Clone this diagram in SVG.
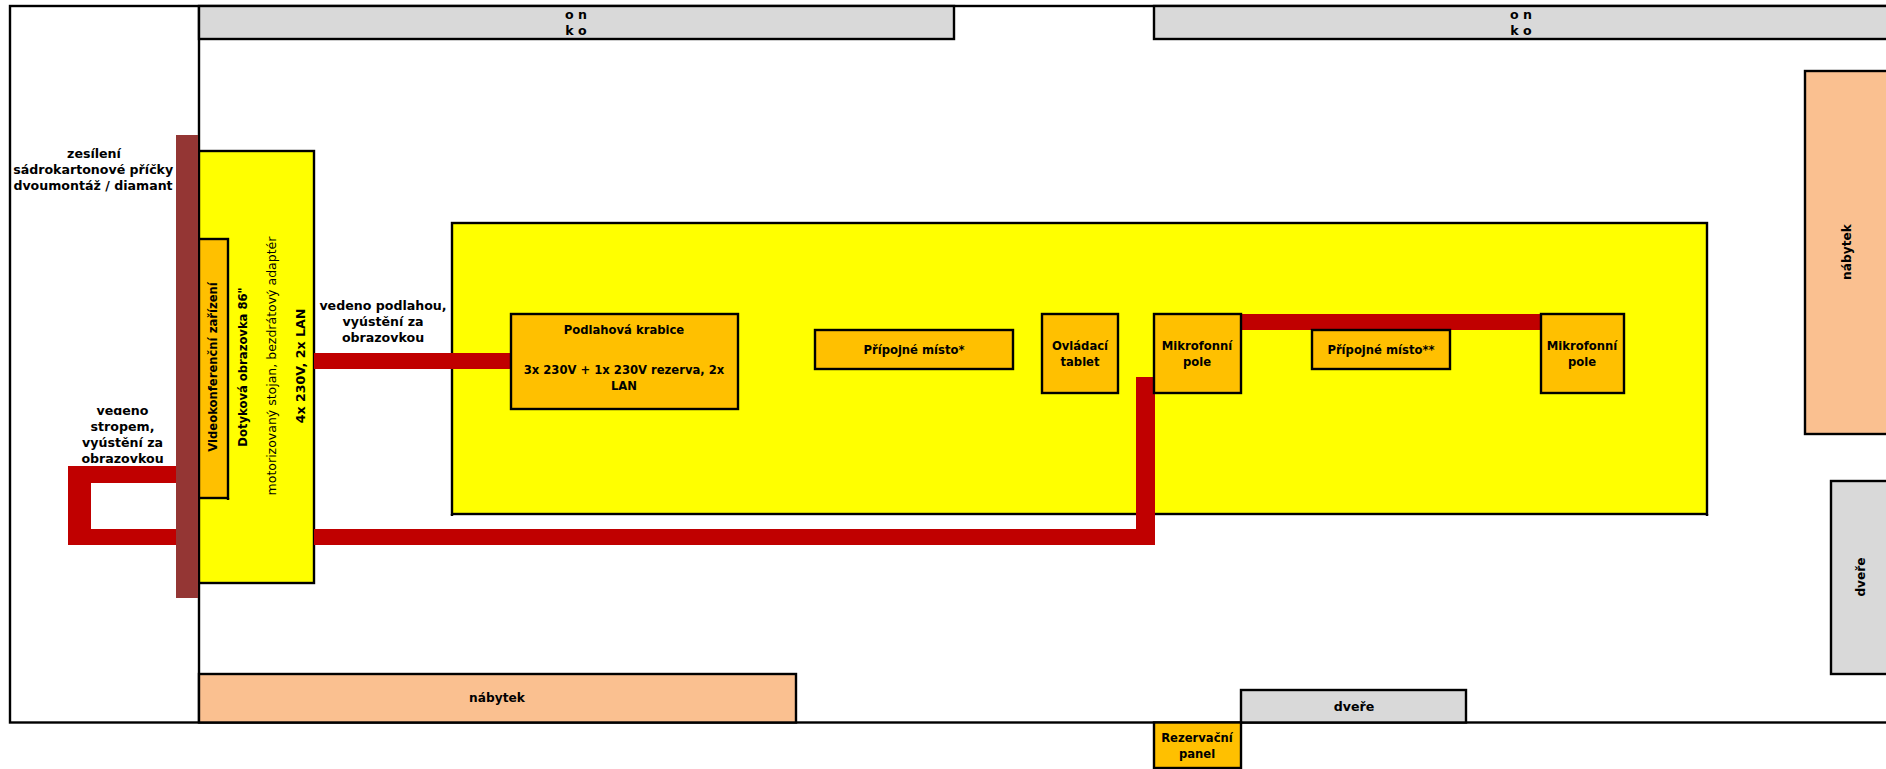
<svg xmlns="http://www.w3.org/2000/svg" width="1886" height="769" viewBox="0 0 1886 769">
<style>
rect.b{stroke:#000;stroke-width:2.4}
.y{fill:#ff0}.o{fill:#ffc000}.g{fill:#d9d9d9}.p{fill:#fac090}.w{fill:none}
.brown{fill:#943634}
text{font-family:"DejaVu Sans",Verdana,sans-serif;font-size:11.6px;font-weight:bold;fill:#000;text-anchor:middle}
text.r{font-weight:normal;font-size:12.5px}
text.l{font-size:12.6px}
text.m{font-size:12.2px}
.c{fill:#c00000}
</style>
<defs><clipPath id="cl"><rect x="20" y="408" width="200" height="60"/></clipPath></defs>
<rect width="1886" height="769" fill="#fff"/>
<g id="room"><rect class="b w" x="10" y="6" width="1890" height="716.500"/><path d="M199 6V722.500" stroke="#000" stroke-width="2.4"/></g>
<g id="okno1"><rect class="b g" x="199" y="6" width="755" height="33"/><text class="l" x="576" y="19">o n</text><text class="l" x="576" y="35">k o</text></g>
<g id="okno2"><rect class="b g" x="1154" y="6" width="750" height="33"/><text class="l" x="1521" y="19">o n</text><text class="l" x="1521" y="35">k o</text></g>
<g id="stul"><rect class="b y" x="452" y="223" width="1255" height="291"/><path d="M452 514v2M1707 514v2" stroke="#000" stroke-width="2.4"/></g>
<g id="obrazovka"><rect class="b y" x="199" y="151" width="115" height="432"/>
<text transform="translate(243,367) rotate(-90)" y="4">Dotyková obrazovka 86"</text>
<text class="r" transform="translate(272,366) rotate(-90)" y="4">motorizovaný stojan, bezdrátový adaptér</text>
<text class="l" transform="translate(301,366) rotate(-90)" y="4">4x 230V, 2x LAN</text></g>
<g id="connectors">
<rect class="c" x="314" y="353" width="197" height="16"/>
<rect class="c" x="1240" y="314" width="302" height="16"/>
<rect class="c" x="314" y="529" width="841" height="16"/>
<rect class="c" x="1136" y="377" width="19" height="168"/>
<rect class="c" x="68" y="466" width="108" height="17"/>
<rect class="c" x="68" y="529" width="108" height="16"/>
<rect class="c" x="68" y="466" width="23" height="79"/>
</g>
<g id="video"><rect class="b o" x="199" y="239" width="29" height="259"/><path d="M228 498v2" stroke="#000" stroke-width="2.4"/><text transform="translate(213,367) rotate(-90)" y="4">Videokonferenční zařízení</text></g>
<g id="zesileni-text"><text class="l" x="94" y="158">zesílení</text><text class="l" x="98" y="174">sádrokartonové příčky -</text><text class="l" x="93" y="190">dvoumontáž / diamant</text></g>
<g id="zesileni"><rect class="brown" x="176" y="135" width="22" height="463"/></g>
<g id="vedeno-strop" clip-path="url(#cl)"><text class="l" x="122.500" y="415">vedeno</text><text class="l" x="122.500" y="431">stropem,</text><text class="l" x="122.500" y="447">vyústění za</text><text class="l" x="122.500" y="463">obrazovkou</text></g>
<g id="vedeno-podlaha"><text class="l" x="383" y="310">vedeno podlahou,</text><text class="l" x="383" y="326">vyústění za</text><text class="l" x="383" y="342">obrazovkou</text></g>
<g id="krabice"><rect class="b o" x="511" y="314" width="227" height="95"/><text x="624" y="334">Podlahová krabice</text><text x="624" y="374">3x 230V + 1x 230V rezerva, 2x</text><text x="624" y="390">LAN</text></g>
<g id="pripojne1"><rect class="b o" x="815" y="330" width="198" height="39"/><text x="914" y="354">Přípojné místo*</text></g>
<g id="tablet"><rect class="b o" x="1042" y="314" width="76" height="79"/><text x="1080" y="350">Ovládací</text><text x="1080" y="366">tablet</text></g>
<g id="mikrofon1"><rect class="b o" x="1154" y="314" width="87" height="79"/><text x="1197" y="350">Mikrofonní</text><text x="1197" y="366">pole</text></g>
<g id="pripojne2"><rect class="b o" x="1312" y="330" width="138" height="39"/><text x="1381" y="354">Přípojné místo**</text></g>
<g id="mikrofon2"><rect class="b o" x="1541" y="314" width="83" height="79"/><text x="1582" y="350">Mikrofonní</text><text x="1582" y="366">pole</text></g>
<g id="nabytek1"><rect class="b p" x="199" y="674" width="597" height="48.500"/><text class="m" x="497" y="702">nábytek</text></g>
<g id="dvere1"><rect class="b g" x="1241" y="690" width="225" height="32.500"/><text class="l" x="1354" y="711">dveře</text></g>
<g id="rezervacni"><rect class="b o" x="1154" y="722.500" width="87" height="45.500"/><text x="1197" y="742">Rezervační</text><text x="1197" y="758">panel</text></g>
<g id="nabytek2"><rect class="b p" x="1805" y="71" width="100" height="363"/><text class="m" transform="translate(1847,252) rotate(-90)" y="4">nábytek</text></g>
<g id="dvere2"><rect class="b g" x="1831" y="481" width="70" height="193"/><text class="m" transform="translate(1861,577) rotate(-90)" y="4">dveře</text></g>
</svg>
